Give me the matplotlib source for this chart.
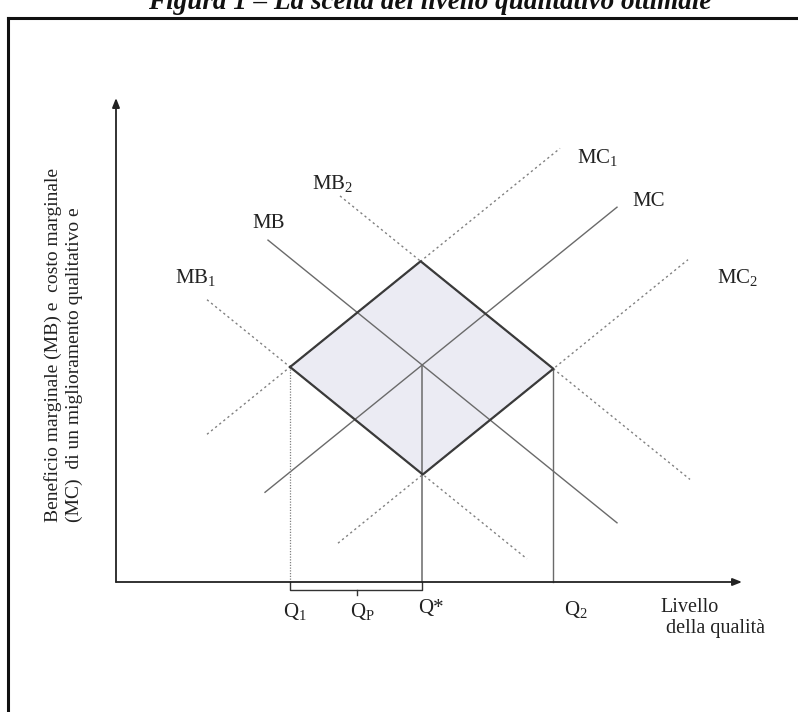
import matplotlib

matplotlib.use("Agg")
import matplotlib.pyplot as plt
import numpy as np

plt.rcParams["font.family"] = ["Liberation Serif", "DejaVu Serif"]
plt.rcParams["mathtext.fontset"] = "custom"
plt.rcParams["mathtext.rm"] = "Liberation Serif"
plt.rcParams["mathtext.default"] = "regular"

# -----------------------------------------------------------------------------
# Schematic data: lines y = a + b*x, drawn over an x range
# -----------------------------------------------------------------------------
SLOPE = 0.81
mb_names = ["MB$_1$", "MB", "MB$_2$"]
mb_intercepts = [7.12, 9.30, 11.35]
mb_xranges = [(1.82, 8.22), (3.04, 10.02), (4.48, 11.48)]
mb_styles = ["dotted", "solid", "dotted"]
mb_label_pos = [(1.18, 6.08), (2.72, 7.18), (3.92, 7.98)]

mc_names = ["MC$_2$", "MC", "MC$_1$"]
mc_intercepts = [-2.82, -0.62, 1.48]
mc_xranges = [(4.44, 11.44), (2.98, 10.02), (1.82, 8.88)]
mc_styles = ["dotted", "solid", "dotted"]
mc_label_pos = [(12.02, 6.10), (10.32, 7.62), (9.22, 8.48)]

q_p = 4.82
x_axis_len = 12.52
y_axis_len = 9.68

DOT = (0, (1.6, 2.2))
LINE_COL = "#6a6a6a"
DOT_COL = "#808080"


def meet(a_down, a_up):
    # intersection of a falling (MB) and a rising (MC) line
    x = (a_down - a_up) / (2 * SLOPE)
    return x, a_up + SLOPE * x


fig = plt.figure(figsize=(7.98, 7.12), dpi=100)
ax = fig.add_axes([0, 0, 1, 1])
ax.set_xlim(-116 / 50, (798 - 116) / 50)
ax.set_ylim(-(712 - 582) / 50, 582 / 50)
ax.axis("off")

# outer frame (top and left edges of the scanned box)
ax.plot([8 / 798, 1], [1 - 18 / 712] * 2, color="#111", lw=2.2, transform=ax.transAxes)
ax.plot([8 / 798] * 2, [0, 1 - 18 / 712], color="#111", lw=2.2, transform=ax.transAxes)

# title, cropped at the top edge as in the scan
ax.text(430 / 798, 1 - 9 / 712, "Figura 1 – La scelta del livello qualitativo ottimale",
        transform=ax.transAxes, ha="center", va="baseline", fontsize=19.5,
        fontweight="bold", fontstyle="italic", color="#111")

# shaded diamond between MB1/MB2 and MC1/MC2
left = meet(mb_intercepts[0], mc_intercepts[2])
top = meet(mb_intercepts[2], mc_intercepts[2])
right = meet(mb_intercepts[2], mc_intercepts[0])
bottom = meet(mb_intercepts[0], mc_intercepts[0])
centre = meet(mb_intercepts[1], mc_intercepts[1])
dx = [left[0], top[0], right[0], bottom[0]]
dy = [left[1], top[1], right[1], bottom[1]]
ax.fill(dx, dy, facecolor="#ebebf3", edgecolor="none", zorder=1)

# MB and MC curves
for a, (x0, x1), st in zip(mb_intercepts, mb_xranges, mb_styles):
    xs = np.array([x0, x1])
    ax.plot(xs, a - SLOPE * xs, color=LINE_COL if st == "solid" else DOT_COL,
            lw=1.0, ls="-" if st == "solid" else DOT, zorder=2)
for a, (x0, x1), st in zip(mc_intercepts, mc_xranges, mc_styles):
    xs = np.array([x0, x1])
    ax.plot(xs, a + SLOPE * xs, color=LINE_COL if st == "solid" else DOT_COL,
            lw=1.0, ls="-" if st == "solid" else DOT, zorder=2)

# diamond outline
ax.plot(dx + [dx[0]], dy + [dy[0]], color="#3a3a3a", lw=1.6, zorder=3)

for name, (lx, ly) in zip(mb_names + mc_names, mb_label_pos + mc_label_pos):
    ax.text(lx, ly, name, ha="left", va="center", fontsize=15, color="#222")

# vertical drop lines
ax.plot([left[0]] * 2, [0, left[1]], color=DOT_COL, lw=0.9, ls=(0, (1, 1.2)), zorder=2)
ax.plot([centre[0]] * 2, [0, centre[1]], color=LINE_COL, lw=1.1, zorder=2)
ax.plot([right[0]] * 2, [0, right[1]], color=LINE_COL, lw=1.0, zorder=2)

# axes with arrows
arrow = dict(arrowstyle="-|>,head_length=0.55,head_width=0.22", color="#222",
             lw=1.3, shrinkA=0, shrinkB=0)
ax.annotate("", xy=(0, y_axis_len), xytext=(0, 0), arrowprops=arrow)
ax.annotate("", xy=(x_axis_len, 0), xytext=(0, 0), arrowprops=arrow)

# bracket Q1 .. Q*
by = -0.16
ax.plot([left[0], left[0], centre[0], centre[0]], [0, by, by, 0], color="#333", lw=1.0)
ax.plot([q_p, q_p], [by, by - 0.1], color="#333", lw=1.0)

ax.text(left[0] + 0.1, -0.58, "Q$_1$", ha="center", va="center", fontsize=15, color="#222")
ax.text(q_p + 0.1, -0.58, "Q$_P$", ha="center", va="center", fontsize=15, color="#222")
ax.text(centre[0] + 0.18, -0.52, "Q*", ha="center", va="center", fontsize=15, color="#222")
ax.text(right[0] + 0.46, -0.56, "Q$_2$", ha="center", va="center", fontsize=15, color="#222")
ax.text(10.88, -0.5, "Livello", ha="left", va="center", fontsize=14.5, color="#222")
ax.text(11.0, -0.94, "della qualità", ha="left", va="center", fontsize=14.5, color="#222")

# y-axis title, two rotated lines anchored at the bottom
ax.text(-1.26, 1.2, "Beneficio marginale (MB) e  costo marginale", rotation=90,
        ha="center", va="bottom", fontsize=14, color="#222")
ax.text(-0.83, 1.2, "(MC)  di un miglioramento qualitativo e", rotation=90,
        ha="center", va="bottom", fontsize=14, color="#222")

fig.savefig("out.png", dpi=100, facecolor="white")
